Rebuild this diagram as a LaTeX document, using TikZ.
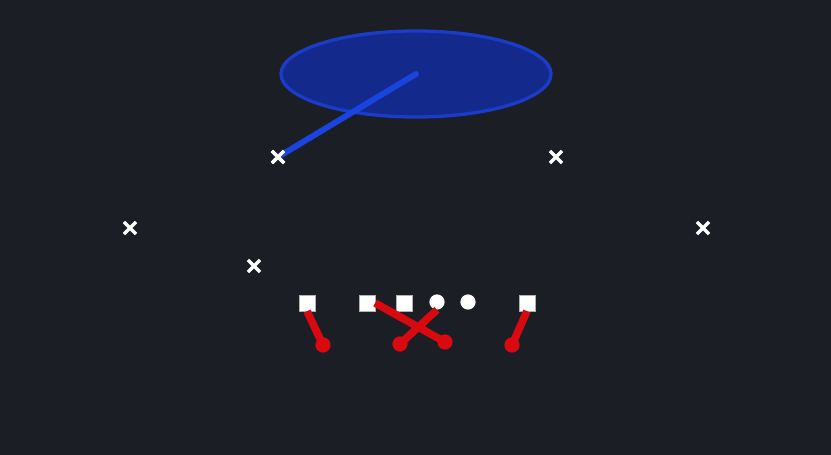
\documentclass[tikz,border=0pt]{standalone}
\usetikzlibrary{shapes.misc}

\definecolor{bg}{HTML}{1B1E24}
\definecolor{zoneblue}{HTML}{132A8C}
\definecolor{zoneedge}{HTML}{1A3CC8}
\definecolor{blitzblue}{HTML}{1A44E0}
\definecolor{runred}{HTML}{D80A10}

\tikzset{
  defender/.style={cross out, draw=white, line width=2.8pt, minimum size=7.5pt, inner sep=0pt},
  lineman/.style={rectangle, fill=white, draw=gray!60, minimum size=13.5pt, inner sep=0pt},
  back/.style={circle, fill=white, minimum size=13pt, inner sep=0pt},
  route/.style={runred, line width=6.5pt},
  routeend/.style={circle, fill=runred, minimum size=13pt, inner sep=0pt}
}

\begin{document}
\begin{tikzpicture}[x=0.03cm, y=-0.03cm]

\fill[bg] (0, 0) rectangle (831, 455);

% zone
\draw[fill=zoneblue, draw=zoneedge, line width=2.8pt] (416, 74) ellipse (135 and 43);
\coordinate (zone) at (416, 74);

% defense
\node[defender] (d1) at (278, 157) {};
\node[defender] (d2) at (556, 157) {};
\node[defender] (d3) at (130, 228) {};
\node[defender] (d4) at (703, 228) {};
\node[defender] (d5) at (254, 266) {};

\draw[blitzblue, line width=5pt, line cap=round] (d1.center) -- (zone);
\node[defender] at (d1) {};

% offense
\node[lineman] (o1) at (307, 303) {};
\node[lineman] (o2) at (367, 303) {};
\node[lineman] (o3) at (404, 303) {};
\node[back] (b1) at (437, 302) {};
\node[back] (b2) at (468, 302) {};
\node[lineman] (o4) at (527, 303) {};

\node[routeend] (e1) at (323, 345) {};
\node[routeend] (e2) at (445, 342) {};
\node[routeend] (e3) at (400, 344) {};
\node[routeend] (e4) at (512, 345) {};

\draw[route] (o1.south) -- (e1.center);
\draw[route] (o2.east) -- (e2.center);
\draw[route] (b1.south) -- (e3.center);
\draw[route] (o4.south) -- (e4.center);

\end{tikzpicture}
\end{document}
